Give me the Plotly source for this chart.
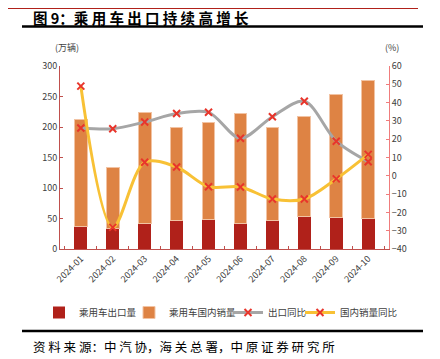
import plotly.graph_objects as go

months = ["2024-01", "2024-02", "2024-03", "2024-04", "2024-05",
          "2024-06", "2024-07", "2024-08", "2024-09", "2024-10"]
export_vol = [36.6, 33.5, 42.0, 47.5, 48.6, 41.0, 47.5, 52.5, 51.4, 50.3]
domestic_vol = [175.0, 99.5, 182.0, 152.5, 159.5, 181.0, 152.0, 165.5, 202.0, 226.0]
export_yoy = [26.1, 25.7, 29.4, 34.0, 34.7, 20.5, 32.3, 40.7, 18.9, 7.7]
domestic_yoy = [49.0, -28.2, 7.4, 4.8, -6.0, -6.1, -12.7, -12.7, -1.7, 11.7]

FONT = "Noto Sans CJK SC"
DARK_RED = "#B0211A"
ORANGE = "#DE8344"
GRAY = "#A6A6A6"
YELLOW = "#F8C135"
MARK = "#E8352B"

# the page body has an 8px margin, so the figure is drawn 8px in from the corner
OFF = 8
W = 329.0  # plot width px
H = 183.0  # plot height px


def px_x(x):
    return (x - 60) / W


def px_y(y):
    return (249 - y) / H


fig = go.Figure()
fig.add_trace(go.Bar(x=months, y=export_vol, name="乘用车出口量", legend="legend",
                     marker=dict(color=DARK_RED, line=dict(width=0))))
fig.add_trace(go.Bar(x=months, y=domestic_vol, name="乘用车国内销量", legend="legend2",
                     marker=dict(color=ORANGE, line=dict(color="#F2C3A3", width=1))))
fig.add_trace(go.Scatter(x=months, y=export_yoy, name="出口同比", yaxis="y2",
                         legend="legend3", mode="lines+markers",
                         line=dict(color=GRAY, width=3, shape="spline", smoothing=0.9),
                         marker=dict(symbol="x-thin", size=7, color=MARK,
                                     line=dict(color=MARK, width=2))))
fig.add_trace(go.Scatter(x=months, y=domestic_yoy, name="国内销量同比", yaxis="y2",
                         legend="legend4", mode="lines+markers",
                         line=dict(color=YELLOW, width=3, shape="spline", smoothing=0.9),
                         marker=dict(symbol="x-thin", size=7, color=MARK,
                                     line=dict(color=MARK, width=2))))

LEG_Y = px_y(312.5)


def leg(text_x):
    return dict(orientation="h", x=px_x(text_x - 40), xanchor="left", y=LEG_Y,
                yanchor="middle", font=dict(size=9.5, color="#404040"),
                itemwidth=30, bgcolor="rgba(0,0,0,0)", borderwidth=0)


fig.update_layout(
    width=440 - OFF, height=359 - OFF,
    margin=dict(l=60 - OFF, r=51, t=66 - OFF, b=110, autoexpand=False),
    paper_bgcolor="white", plot_bgcolor="white",
    barmode="stack", bargap=0.6,
    font=dict(family=FONT, size=9, color="#404040"),
    showlegend=True,
    legend=leg(79), legend2=leg(169), legend3=leg(268), legend4=leg(340),
    xaxis=dict(type="category", tickangle=-45, showline=True, linecolor="#C0504D",
               linewidth=1, ticks="inside", ticklen=3, tickcolor="#C0504D",
               tickson="boundaries", showgrid=False, tickfont=dict(size=9),
               automargin=False),
    yaxis=dict(range=[0, 300], dtick=50, showline=True, linecolor="#C0504D",
               linewidth=1, ticks="inside", ticklen=3, tickcolor="#C0504D",
               showgrid=False, zeroline=False, tickfont=dict(size=9), automargin=False),
    yaxis2=dict(range=[-40, 60], dtick=10, overlaying="y", side="right",
                showline=True, linecolor="#F07C7C", linewidth=1, ticks="inside",
                ticklen=3, tickcolor="#F07C7C", showgrid=False, zeroline=False,
                tickfont=dict(size=9), automargin=False),
    shapes=[
        dict(type="line", xref="paper", yref="paper", x0=px_x(0), x1=px_x(418),
             y0=px_y(8.5), y1=px_y(8.5), line=dict(color="#B0211A", width=1)),
        dict(type="line", xref="paper", yref="paper", x0=px_x(22), x1=px_x(423),
             y0=px_y(26.5), y1=px_y(26.5), line=dict(color="black", width=2.5)),
        dict(type="line", xref="paper", yref="paper", x0=px_x(22), x1=px_x(423),
             y0=px_y(331), y1=px_y(331), line=dict(color="black", width=2.5)),
    ],
    annotations=[
        dict(text="<b>图 9：乘 用 车 出 口 持 续 高 增 长</b>", xref="paper", yref="paper",
             x=px_x(32), y=px_y(17.5), xanchor="left", yanchor="middle",
             borderpad=0, showarrow=False,
             font=dict(size=14.5, color="black", family=FONT)),
        dict(text="(万辆)", xref="paper", yref="paper", x=px_x(67), y=px_y(47),
             xanchor="center", yanchor="middle", showarrow=False,
             font=dict(size=9, color="#404040")),
        dict(text="(%)", xref="paper", yref="paper", x=px_x(392), y=px_y(47),
             xanchor="center", yanchor="middle", showarrow=False,
             font=dict(size=9, color="#404040")),
        dict(text="资 料 来 源：中 汽 协，海 关 总 署，中 原 证 券 研 究 所",
             xref="paper", yref="paper",
             x=px_x(31), y=px_y(346), xanchor="left", yanchor="middle",
             showarrow=False, font=dict(size=12.5, color="black", family=FONT)),
    ],
)

fig.write_html("out.html")
